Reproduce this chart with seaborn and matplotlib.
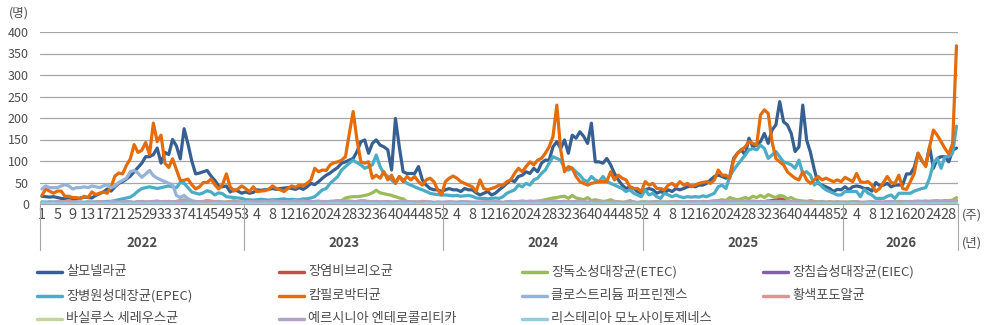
import numpy as np
import pandas as pd
import seaborn as sns
import matplotlib.pyplot as plt
import matplotlib.transforms as mtransforms
from matplotlib.lines import Line2D

# years on the category axis and how many weeks each one has
years = ['2022', '2023', '2024', '2025', '2026']
weeks_per_year = [53, 52, 52, 52, 30]

series_names = ['살모넬라균', '장염비브리오균', '장독소성대장균(ETEC)', '장침습성대장균(EIEC)',
                '장병원성대장균(EPEC)', '캄필로박터균', '클로스트리듐 퍼프린젠스', '황색포도알균',
                '바실루스 세레우스균', '예르시니아 엔테로콜리티카', '리스테리아 모노사이토제네스']
colors = ['#376092', '#C0504D', '#9BBB59', '#8064A2', '#4BACC6', '#E46C0A',
          '#95B3D7', '#D99694', '#C3D69B', '#B3A2C7', '#93CDDD']

salmonella = [
    18, 17, 16, 17, 15, 13, 12, 12, 11, 12, 14, 16, 15, 14, 20, 24, 28, 35, 30, 40,
    48, 52, 58, 65, 75, 85, 95, 110, 110, 115, 130, 95, 120, 115, 150, 135, 105, 175, 140, 100,
    70, 72, 75, 78, 65, 55, 42, 40, 42, 28, 33, 30, 25,
    # 2023
    28, 25, 27, 33, 32, 33, 34, 36, 34, 36, 37, 38, 36, 34, 38, 34, 40, 48, 45, 52,
    60, 67, 72, 79, 85, 95, 98, 102, 106, 122, 145, 149, 118, 141, 149, 137, 133, 126, 79, 199,
    133, 75, 71, 71, 71, 87, 56, 44, 36, 33, 33, 29,
    # 2024
    33, 36, 33, 33, 29, 36, 33, 33, 26, 21, 25, 29, 21, 25, 33, 40, 48, 56, 52, 64,
    67, 75, 71, 83, 75, 95, 102, 102, 133, 145, 129, 149, 118, 160, 153, 168, 157, 141, 188, 98,
    98, 95, 106, 91, 71, 56, 44, 36, 40, 36, 29, 25,
    # 2025
    33, 36, 33, 25, 29, 25, 33, 29, 36, 33, 36, 40, 42, 40, 44, 44, 48, 56, 64, 67,
    64, 60, 64, 106, 118, 126, 114, 153, 133, 137, 145, 164, 141, 172, 184, 238, 191, 184, 164, 122,
    133, 230, 149, 120, 80, 48, 44, 40, 36, 29, 34, 33,
    # 2026
    40, 33, 40, 42, 40, 36, 36, 30, 50, 43, 44, 48, 40, 44, 44, 45, 70, 70, 85, 118,
    100, 90, 133, 83, 106, 110, 110, 98, 125, 130]

vibrio = [
    0, 0, 0, 0, 0, 0, 0, 0, 0, 0, 0, 0, 0, 0, 0, 0, 0, 1, 0, 1,
    1, 1, 2, 1, 2, 2, 3, 3, 4, 3, 4, 5, 4, 3, 4, 3, 2, 3, 2, 1,
    1, 0, 1, 0, 0, 0, 0, 0, 0, 0, 0, 0, 0,
    0, 0, 0, 0, 0, 0, 0, 0, 0, 0, 0, 0, 0, 0, 0, 0, 0, 0, 1, 1,
    1, 2, 2, 3, 2, 3, 4, 3, 4, 5, 4, 6, 5, 4, 5, 4, 3, 2, 2, 1,
    1, 1, 0, 0, 0, 0, 0, 0, 0, 0, 0, 0,
    0, 0, 0, 0, 0, 0, 0, 0, 0, 0, 0, 0, 0, 0, 0, 0, 0, 1, 0, 1,
    1, 2, 2, 2, 3, 3, 4, 4, 5, 4, 5, 6, 5, 4, 5, 3, 3, 2, 2, 1,
    1, 0, 0, 0, 0, 0, 0, 0, 0, 0, 0, 0,
    0, 0, 0, 0, 0, 0, 0, 0, 0, 0, 0, 0, 0, 0, 0, 0, 1, 0, 1, 1,
    2, 2, 3, 2, 3, 4, 3, 4, 5, 5, 6, 5, 7, 8, 10, 12, 10, 8, 5, 3,
    2, 1, 1, 0, 0, 0, 0, 0, 0, 0, 0, 0,
    0, 0, 0, 0, 0, 0, 0, 0, 0, 0, 0, 0, 0, 0, 0, 0, 0, 0, 0, 1,
    1, 1, 2, 1, 2, 2, 3, 3, 3, 4]

etec = [
    2, 1, 2, 1, 2, 1, 1, 2, 1, 1, 2, 1, 2, 2, 1, 2, 3, 2, 3, 2,
    3, 4, 3, 4, 3, 5, 4, 3, 5, 4, 4, 5, 6, 5, 4, 6, 8, 10, 5, 4,
    3, 4, 3, 2, 3, 2, 2, 3, 2, 1, 2, 1, 2,
    2, 1, 2, 2, 1, 2, 1, 2, 2, 3, 2, 2, 3, 2, 3, 3, 4, 3, 4, 5,
    4, 5, 6, 5, 5, 8, 14, 16, 17, 17, 18, 20, 22, 26, 32, 26, 24, 22, 20, 17,
    14, 12, 5, 4, 3, 4, 3, 2, 3, 2, 3, 2,
    2, 3, 2, 3, 2, 3, 2, 2, 3, 2, 3, 2, 3, 3, 2, 3, 4, 3, 4, 3,
    4, 5, 4, 5, 6, 8, 10, 12, 14, 15, 17, 18, 13, 20, 14, 12, 10, 15, 8, 10,
    8, 6, 7, 10, 6, 5, 4, 5, 8, 4, 3, 5,
    5, 4, 5, 6, 4, 5, 4, 5, 6, 5, 4, 5, 6, 5, 4, 6, 5, 6, 7, 8,
    10, 8, 15, 12, 10, 12, 15, 12, 18, 15, 20, 15, 22, 18, 15, 20, 18, 12, 15, 10,
    8, 7, 6, 8, 6, 5, 6, 4, 5, 4, 5, 4,
    4, 5, 4, 5, 4, 3, 4, 5, 4, 3, 4, 5, 4, 5, 6, 5, 4, 5, 6, 5,
    6, 7, 6, 7, 8, 6, 7, 8, 9, 15]

eiec = [
    1, 0, 1, 0, 0, 1, 0, 0, 1, 0, 0, 1, 0, 0, 1, 0, 1, 0, 0, 1,
    0, 1, 2, 1, 0, 1, 2, 1, 0, 1, 2, 1, 0, 1, 1, 0, 1, 0, 0, 1,
    0, 1, 0, 0, 1, 0, 0, 1, 0, 0, 1, 0, 0,
    0, 1, 0, 0, 1, 0, 0, 1, 0, 1, 0, 0, 1, 0, 1, 0, 0, 1, 0, 1,
    1, 2, 1, 0, 1, 2, 3, 1, 1, 2, 1, 0, 1, 2, 1, 1, 0, 1, 0, 1,
    0, 0, 1, 0, 0, 1, 0, 0, 1, 0, 0, 1,
    1, 0, 0, 1, 0, 1, 0, 0, 1, 0, 1, 0, 0, 1, 0, 0, 1, 0, 1, 0,
    1, 1, 2, 1, 1, 2, 1, 2, 1, 1, 2, 1, 1, 0, 1, 2, 1, 0, 1, 0,
    1, 0, 0, 1, 0, 0, 1, 0, 0, 1, 0, 0,
    0, 0, 1, 0, 1, 0, 0, 1, 0, 0, 1, 0, 1, 0, 0, 1, 0, 1, 1, 0,
    1, 2, 1, 1, 2, 1, 2, 3, 1, 2, 1, 2, 1, 1, 2, 1, 0, 1, 1, 0,
    1, 0, 0, 1, 0, 0, 1, 0, 0, 1, 0, 0,
    0, 1, 0, 0, 1, 0, 0, 1, 0, 0, 1, 0, 0, 1, 0, 1, 0, 0, 1, 0,
    1, 1, 0, 1, 2, 1, 1, 2, 1, 2]

epec = [
    5, 4, 5, 4, 5, 5, 4, 4, 3, 4, 4, 4, 5, 4, 5, 5, 5, 6, 6, 8,
    10, 12, 14, 16, 22, 30, 36, 38, 40, 38, 36, 38, 40, 42, 40, 38, 50, 48, 38, 28,
    25, 23, 26, 31, 28, 21, 26, 24, 17, 16, 15, 14, 13,
    10, 10, 9, 10, 11, 10, 9, 10, 10, 11, 12, 10, 11, 10, 10, 12, 12, 14, 17, 25,
    33, 36, 48, 56, 64, 79, 87, 95, 102, 96, 91, 83, 87, 91, 114, 87, 71, 64, 56, 48,
    64, 56, 48, 44, 40, 36, 33, 29, 25, 23, 22, 21,
    21, 20, 19, 20, 18, 19, 20, 18, 14, 13, 13, 12, 13, 14, 13, 17, 25, 29, 33, 44,
    40, 48, 44, 56, 60, 71, 79, 95, 110, 106, 102, 83, 79, 83, 75, 67, 56, 52, 64, 56,
    52, 64, 52, 48, 44, 40, 36, 29, 33, 25, 21, 17,
    33, 21, 25, 17, 13, 25, 21, 17, 21, 17, 15, 17, 16, 17, 16, 19, 17, 21, 25, 40,
    44, 36, 64, 79, 91, 102, 114, 126, 129, 126, 137, 129, 106, 114, 122, 110, 98, 95, 91, 83,
    102, 71, 75, 67, 44, 52, 40, 33, 29, 25, 21, 21,
    29, 29, 29, 29, 17, 34, 25, 21, 13, 13, 13, 18, 21, 13, 25, 25, 25, 25, 30, 33,
    36, 38, 60, 95, 106, 83, 110, 110, 118, 181]

campylobacter = [
    20, 35, 30, 25, 30, 30, 18, 18, 15, 15, 12, 18, 15, 28, 22, 25, 28, 25, 40, 65,
    72, 70, 90, 105, 138, 120, 125, 143, 115, 188, 145, 160, 95, 85, 105, 80, 55, 55, 58, 45,
    35, 40, 50, 50, 58, 45, 35, 45, 70, 40, 30, 35, 42,
    36, 29, 40, 29, 30, 31, 34, 42, 36, 33, 29, 36, 42, 39, 44, 42, 48, 56, 83, 75,
    79, 78, 91, 96, 98, 102, 110, 164, 215, 149, 98, 95, 98, 60, 67, 60, 75, 56, 67, 48,
    64, 52, 64, 56, 64, 52, 44, 56, 60, 52, 33, 21,
    52, 60, 65, 60, 52, 48, 44, 40, 29, 56, 36, 33, 36, 39, 44, 44, 52, 56, 71, 83,
    75, 87, 98, 91, 102, 106, 118, 133, 157, 230, 126, 75, 87, 83, 64, 52, 48, 44, 48, 50,
    52, 52, 52, 75, 56, 67, 60, 56, 40, 36, 36, 29,
    52, 44, 48, 36, 36, 33, 44, 48, 40, 52, 44, 48, 40, 44, 48, 50, 52, 48, 56, 79,
    67, 67, 60, 102, 118, 126, 133, 145, 141, 137, 207, 219, 211, 145, 106, 98, 91, 75, 67, 60,
    56, 75, 56, 48, 56, 64, 56, 60, 56, 52, 56, 52,
    62, 57, 52, 71, 52, 50, 52, 44, 29, 36, 50, 64, 50, 48, 67, 36, 34, 52, 71, 118,
    102, 87, 133, 172, 160, 145, 129, 116, 141, 368]

clostridium = [
    35, 42, 38, 38, 38, 42, 45, 42, 35, 38, 38, 40, 38, 42, 40, 38, 42, 45, 38, 42,
    50, 55, 60, 75, 78, 72, 62, 70, 78, 66, 60, 56, 52, 48, 45, 20, 15, 20, 12, 8,
    6, 5, 6, 5, 4, 5, 6, 5, 4, 5, 4, 5, 5,
    5, 6, 5, 4, 5, 6, 5, 7, 6, 5, 4, 5, 6, 8, 6, 5, 4, 5, 6, 7,
    5, 6, 5, 4, 6, 7, 8, 6, 5, 6, 8, 7, 6, 5, 6, 5, 4, 6, 5, 4,
    5, 6, 5, 4, 5, 4, 6, 5, 4, 3, 5, 4,
    4, 5, 3, 4, 6, 5, 4, 5, 3, 4, 5, 6, 4, 5, 4, 3, 5, 6, 5, 4,
    6, 5, 7, 6, 5, 4, 6, 5, 7, 6, 5, 4, 6, 5, 4, 5, 6, 4, 5, 3,
    4, 5, 4, 3, 5, 4, 3, 4, 5, 3, 4, 3,
    3, 4, 5, 3, 4, 3, 5, 4, 3, 4, 5, 3, 4, 5, 4, 3, 4, 6, 5, 4,
    5, 6, 4, 5, 6, 5, 7, 6, 5, 6, 4, 5, 6, 5, 4, 6, 5, 4, 3, 5,
    4, 3, 4, 5, 3, 4, 3, 4, 5, 3, 4, 3,
    4, 3, 5, 4, 3, 4, 5, 3, 4, 5, 3, 4, 5, 4, 3, 5, 4, 6, 5, 4,
    5, 6, 4, 5, 6, 5, 4, 6, 5, 8]

staph = [
    3, 2, 4, 3, 5, 4, 6, 8, 5, 3, 4, 3, 2, 4, 3, 5, 4, 3, 2, 3,
    4, 3, 5, 4, 3, 4, 6, 5, 4, 5, 3, 4, 5, 6, 4, 5, 8, 6, 4, 3,
    4, 5, 6, 8, 7, 5, 4, 3, 5, 6, 8, 5, 4,
    3, 4, 5, 3, 2, 4, 3, 5, 6, 4, 3, 5, 4, 3, 2, 4, 3, 5, 4, 3,
    4, 5, 3, 4, 5, 6, 4, 3, 5, 4, 3, 4, 5, 3, 4, 3, 2, 4, 3, 5,
    4, 3, 4, 5, 3, 4, 6, 5, 4, 3, 4, 3,
    4, 3, 5, 4, 3, 4, 5, 3, 2, 4, 3, 4, 5, 3, 4, 3, 5, 4, 3, 4,
    5, 3, 4, 5, 4, 3, 5, 6, 4, 3, 4, 5, 3, 4, 3, 4, 5, 3, 4, 3,
    5, 4, 3, 4, 3, 5, 4, 3, 4, 5, 3, 4,
    3, 4, 3, 5, 4, 3, 4, 5, 3, 4, 3, 5, 4, 3, 4, 5, 3, 4, 3, 5,
    4, 3, 5, 4, 3, 4, 5, 6, 4, 5, 3, 4, 5, 4, 3, 5, 4, 3, 4, 5,
    3, 4, 3, 5, 4, 3, 4, 3, 5, 4, 3, 4,
    4, 3, 5, 4, 3, 4, 3, 5, 4, 3, 4, 5, 3, 4, 3, 4, 5, 3, 4, 5,
    3, 4, 5, 4, 3, 5, 4, 3, 4, 5]

bacillus = [
    1, 2, 1, 0, 1, 2, 1, 1, 0, 1, 2, 1, 1, 2, 1, 0, 1, 2, 1, 1,
    2, 1, 2, 3, 2, 1, 2, 1, 2, 3, 2, 1, 2, 1, 3, 2, 1, 2, 1, 1,
    2, 1, 0, 1, 2, 1, 1, 0, 1, 2, 1, 1, 0,
    1, 0, 1, 2, 1, 1, 0, 1, 2, 1, 1, 2, 1, 0, 1, 1, 2, 1, 2, 1,
    2, 3, 2, 1, 2, 3, 2, 1, 2, 2, 3, 2, 1, 2, 1, 2, 1, 1, 2, 1,
    0, 1, 1, 2, 1, 0, 1, 1, 0, 1, 1, 0,
    1, 1, 0, 1, 2, 1, 0, 1, 1, 2, 1, 0, 1, 2, 1, 1, 2, 1, 2, 2,
    1, 2, 3, 2, 2, 1, 2, 3, 2, 1, 2, 2, 1, 2, 3, 2, 1, 1, 2, 1,
    1, 0, 1, 1, 2, 1, 0, 1, 1, 0, 1, 1,
    0, 1, 1, 2, 1, 0, 1, 1, 2, 1, 1, 0, 1, 2, 1, 2, 1, 1, 2, 2,
    3, 2, 1, 2, 3, 2, 2, 1, 2, 3, 2, 1, 2, 2, 1, 2, 1, 2, 1, 1,
    0, 1, 2, 1, 1, 0, 1, 1, 2, 1, 0, 1,
    1, 0, 1, 1, 2, 1, 0, 1, 1, 2, 1, 1, 0, 1, 2, 1, 1, 2, 1, 2,
    2, 1, 2, 3, 2, 1, 2, 2, 3, 2]

yersinia = [
    3, 4, 3, 5, 4, 3, 2, 4, 3, 5, 4, 3, 4, 5, 3, 4, 5, 4, 6, 5,
    4, 5, 6, 5, 4, 6, 5, 4, 5, 6, 7, 5, 4, 6, 5, 4, 5, 6, 4, 5,
    4, 3, 5, 4, 3, 4, 5, 4, 3, 4, 5, 4, 3,
    4, 3, 4, 5, 6, 4, 5, 7, 5, 4, 5, 6, 4, 5, 6, 7, 5, 6, 5, 4,
    6, 5, 6, 7, 8, 6, 5, 7, 6, 5, 6, 7, 5, 6, 5, 4, 6, 5, 4, 5,
    4, 5, 6, 4, 5, 4, 3, 4, 5, 4, 3, 4,
    4, 5, 4, 3, 4, 5, 4, 3, 5, 4, 5, 4, 5, 6, 5, 4, 5, 6, 5, 6,
    7, 6, 5, 6, 7, 6, 5, 6, 7, 6, 5, 6, 5, 4, 5, 6, 5, 4, 5, 4,
    5, 4, 3, 4, 5, 4, 3, 4, 5, 4, 3, 4,
    5, 4, 3, 4, 5, 4, 3, 4, 5, 4, 5, 4, 5, 6, 5, 4, 5, 6, 7, 6,
    5, 6, 7, 6, 8, 7, 6, 5, 7, 6, 5, 6, 7, 5, 6, 5, 4, 6, 5, 4,
    5, 4, 5, 4, 3, 4, 5, 4, 3, 4, 5, 4,
    4, 3, 4, 5, 4, 3, 4, 5, 4, 5, 4, 5, 6, 5, 4, 5, 6, 5, 6, 7,
    6, 5, 6, 7, 6, 7, 8, 6, 7, 8]

listeria = [
    1, 0, 0, 1, 0, 0, 1, 0, 0, 0, 1, 0, 0, 1, 0, 0, 0, 1, 0, 0,
    1, 0, 0, 1, 0, 1, 0, 0, 1, 0, 0, 1, 0, 0, 1, 0, 0, 0, 1, 0,
    0, 1, 0, 0, 0, 1, 0, 0, 1, 0, 0, 0, 1,
    0, 1, 0, 0, 0, 1, 0, 0, 1, 0, 0, 0, 1, 0, 0, 1, 0, 0, 0, 1,
    0, 0, 1, 0, 1, 0, 0, 1, 0, 0, 1, 0, 0, 1, 0, 0, 1, 0, 0, 0,
    1, 0, 0, 1, 0, 0, 0, 1, 0, 0, 1, 0,
    0, 0, 1, 0, 0, 1, 0, 0, 0, 1, 0, 0, 1, 0, 0, 0, 1, 0, 0, 1,
    0, 1, 0, 0, 1, 0, 0, 1, 0, 1, 0, 0, 1, 0, 0, 1, 0, 0, 1, 0,
    0, 0, 1, 0, 0, 1, 0, 0, 0, 1, 0, 0,
    1, 0, 0, 0, 1, 0, 0, 1, 0, 0, 1, 0, 0, 0, 1, 0, 0, 1, 0, 1,
    0, 0, 1, 0, 0, 1, 0, 1, 0, 0, 1, 0, 0, 1, 0, 1, 0, 0, 1, 0,
    0, 1, 0, 0, 0, 1, 0, 0, 1, 0, 0, 1,
    0, 0, 1, 0, 0, 0, 1, 0, 0, 1, 0, 0, 0, 1, 0, 0, 1, 0, 0, 0,
    1, 0, 0, 1, 0, 1, 0, 0, 1, 0]

all_values = [salmonella, vibrio, etec, eiec, epec, campylobacter,
              clostridium, staph, bacillus, yersinia, listeria]

n_weeks = sum(weeks_per_year)
rows = []
for name, vals in zip(series_names, all_values):
    for i, v in enumerate(vals):
        rows.append({'idx': i, 'series': name, 'value': v})
df = pd.DataFrame(rows)

# week number of every category, labels shown on every 4th category
week_no = []
for n in weeks_per_year:
    week_no += list(range(1, n + 1))

sns.set_theme(style='white')
plt.rcParams['font.family'] = ['Noto Sans CJK KR', 'DejaVu Sans']
text_color = '#4D4D4D'
grid_color = '#A6A6A6'

W, H = 985, 325
fig = plt.figure(figsize=(W / 100, H / 100), dpi=100)
ax = fig.add_axes([40 / W, 1 - 204 / H, (958.4 - 40) / W, (204 - 32) / H])

sns.lineplot(data=df, x='idx', y='value', hue='series', hue_order=series_names,
             palette=dict(zip(series_names, colors)), linewidth=2.3, legend=False,
             ax=ax, zorder=3)

ax.set_xlim(-0.5, n_weeks - 0.5)
ax.set_ylim(0, 400)
ax.set_yticks(range(0, 401, 50))
ax.yaxis.grid(True, color=grid_color, linewidth=0.9)
ax.set_axisbelow(True)
for s in ['top', 'right', 'left']:
    ax.spines[s].set_visible(False)
ax.spines['bottom'].set_color(grid_color)
ax.spines['bottom'].set_linewidth(0.9)
ax.set_xlabel('')
ax.set_ylabel('')

ax.tick_params(axis='y', length=0, pad=8, labelsize=9, labelcolor=text_color)
label_pos = list(range(0, n_weeks, 4))
ax.set_xticks(label_pos)
ax.set_xticklabels([str(week_no[i]) for i in label_pos])
ax.set_xticks(np.arange(-0.5, n_weeks, 1), minor=True)
ax.tick_params(axis='x', which='major', length=0, pad=3, labelsize=10.5,
               labelcolor=text_color)
ax.tick_params(axis='x', which='minor', length=18, width=0.8, color=grid_color,
               direction='out')

# year separators and year labels
trans = mtransforms.blended_transform_factory(ax.transData, ax.transAxes)
edges = np.concatenate([[0], np.cumsum(weeks_per_year)]) - 0.5
for e in edges:
    ax.plot([e, e], [0, -46 / 172], color=grid_color, linewidth=0.8,
            transform=trans, clip_on=False)
for y, a, b in zip(years, edges[:-1], edges[1:]):
    ax.text((a + b) / 2, -39 / 172, y, transform=trans, ha='center', va='center',
            fontsize=9.5, fontweight='bold', color=text_color)

fig.text(19 / W, 1 - 13.5 / H, '(명)', ha='center', va='center', fontsize=9,
         color=text_color)
fig.text(972 / W, 1 - 215 / H, '(주)', ha='center', va='center', fontsize=9,
         color=text_color)
fig.text(972 / W, 1 - 243 / H, '(년)', ha='center', va='center', fontsize=9,
         color=text_color)

# legend, 4 columns filled row by row
col_x = [37, 279, 522, 763]
row_y = [272, 295.5, 318.5]
for k, (name, c) in enumerate(zip(series_names, colors)):
    x0 = col_x[k % 4]
    y0 = 1 - row_y[k // 4] / H
    fig.add_artist(Line2D([x0 / W, (x0 + 25) / W], [y0, y0], color=c, linewidth=2.5,
                          transform=fig.transFigure))
    fig.text((x0 + 29) / W, y0, name, ha='left', va='center', fontsize=9.5,
             color=text_color)

fig.savefig('out.png', dpi=100)
